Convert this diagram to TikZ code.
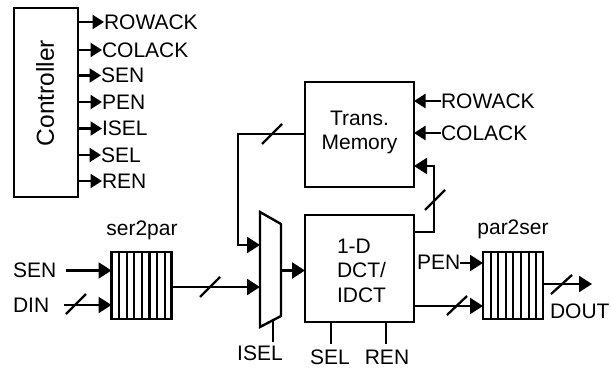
\documentclass[tikz,border=0pt]{standalone}
\usepackage{fontspec}
\setmainfont{Liberation Sans}
\usetikzlibrary{arrows.meta,calc}
\tikzset{
  wire/.style={line width=2.3pt,line join=miter},
  sig/.style={wire,-{Triangle[length=13pt,width=16pt]}},
  sigs/.style={wire,-{Triangle[length=11.5pt,width=14pt]}},
  block/.style={draw,line width=2.5pt,inner sep=0pt,outer sep=0pt,align=center},
  reg/.style={block,minimum width=60pt,minimum height=67pt},
  lbl/.style={inner sep=0pt,outer sep=0pt,font=\fontsize{21}{24.5}\selectfont,align=center},
  busmark/.style={line width=2.3pt},
  stripe/.style={line width=2.1pt}
}
\begin{document}
\begin{tikzpicture}[x=1pt,y=-1pt]
\useasboundingbox (0,0) rectangle (611,369);
% blocks
\node[block,minimum width=64pt,minimum height=189pt] (ctrl) at (46,102.5) {};
\node[lbl,rotate=90,font=\fontsize{24.5}{28}\selectfont] (ctrltxt) at (45,93) {Controller};
\node[block,minimum width=109pt,minimum height=105pt] (mem) at (359.5,134.5) {};
\node[lbl,anchor=center] (memtxt) at (359.5,132.5) {Trans.\\Memory};
\node[block,minimum width=109pt,minimum height=107pt] (dct) at (359.5,268.5) {};
\node[lbl,align=left,anchor=west] (dcttxt) at (337,270.5) {1-D\\DCT/\\IDCT};
\node[reg] (ser) at (141.5,285.5) {};
\node[reg] (par) at (513,285.5) {};
\foreach \i in {1,...,7}{
  \draw[stripe] ($(ser.north west)+(\i*7.6,0)$) -- ($(ser.south west)+(\i*7.6,0)$);
  \draw[stripe] ($(par.north west)+(\i*7.6,0)$) -- ($(par.south west)+(\i*7.6,0)$);
}
\node[lbl] (sertxt) at (142,230) {ser2par};
\node[lbl] (partxt) at (513,229) {par2ser};
% mux
\coordinate (ma) at (260,212);
\coordinate (mb) at (281,224);
\coordinate (mc) at (281,316);
\coordinate (md) at (260,327);
\draw[wire,line width=2.4pt] (ma) -- (mb) -- (mc) -- (md) -- cycle;
% controller outputs
\node[lbl,anchor=west] (o1) at (104,22) {ROWACK};
\node[lbl,anchor=west] (o2) at (102,50) {COLACK};
\node[lbl,anchor=west] (o3) at (101,75.5) {SEN};
\node[lbl,anchor=west] (o4) at (102,102) {PEN};
\node[lbl,anchor=west] (o5) at (102,128.5) {ISEL};
\node[lbl,anchor=west] (o6) at (101,155) {SEL};
\node[lbl,anchor=west] (o7) at (102,181) {REN};
\foreach \n in {o1,o2,o3,o4,o5,o6,o7}
  \draw[sigs] (ctrl.east |- \n.west) -- (\n.west);
% inputs of memory
\node[lbl,anchor=west] (r) at (441,101) {ROWACK};
\node[lbl,anchor=west] (c) at (441,133) {COLACK};
\draw[sigs] (r.west) -- (mem.east |- r.west);
\draw[sigs] (c.west) -- (mem.east |- c.west);
\coordinate (fbout) at (dct.east |- 0,232);
\coordinate (fbup) at (434,232);
\coordinate (fbtop) at (434,166);
\draw[wire,-{Triangle[length=13pt,width=16pt]}] (fbout) -- (fbup) -- (fbtop) -- (mem.east |- fbtop);
\draw[busmark] (425,210) -- (445,190);
% memory to mux
\coordinate (mleft) at (238,134);
\coordinate (mdown) at (238,245);
\coordinate (min1) at (260,245);
\draw[sig] (mem.west |- mleft) -- (mleft) -- (mdown) -- (min1);
\draw[busmark] (262,144) -- (282,124);
% ser2par
\node[lbl,anchor=west] (sen) at (13,270) {SEN};
\node[lbl,anchor=west] (din) at (13,305) {DIN};
\coordinate (senw) at (66,270.5);
\coordinate (dinw) at (64,305);
\draw[sig] (senw) -- (ser.west |- senw);
\draw[sig] (dinw) -- (ser.west |- dinw);
\draw[busmark] (66,314) -- (86,294);
\coordinate (min2) at (260,287);
\draw[sig] (ser.east |- min2) -- (min2);
\draw[busmark] (200,297) -- (220,277);
% mux to dct
\coordinate (mout) at (281,270.5);
\draw[sig] (mout) -- (dct.west |- mout);
\node[lbl] (isel) at (260,353) {ISEL};
\draw[wire] (273,321) -- (273,342);
% dct controls
\node[lbl] (sel) at (330,357) {SEL};
\node[lbl] (ren) at (387,357) {REN};
\draw[wire] (dct.south -| 331,0) -- (331,344);
\draw[wire] (dct.south -| 386,0) -- (386,344);
% par2ser
\node[lbl,anchor=west] (pen) at (417,262) {PEN};
\draw[sig] (pen.east |- 0,263) -- (par.west |- 0,263);
\coordinate (dp) at (414,306);
\draw[sig] (dp) -- (par.west |- dp);
\draw[busmark] (447,315) -- (467,296);
\coordinate (dend) at (592,284);
\draw[sig] (par.east |- dend) -- (dend);
\draw[busmark] (551,294) -- (572,275);
\node[lbl,anchor=west] (dout) at (550,311) {DOUT};
\end{tikzpicture}
\end{document}
